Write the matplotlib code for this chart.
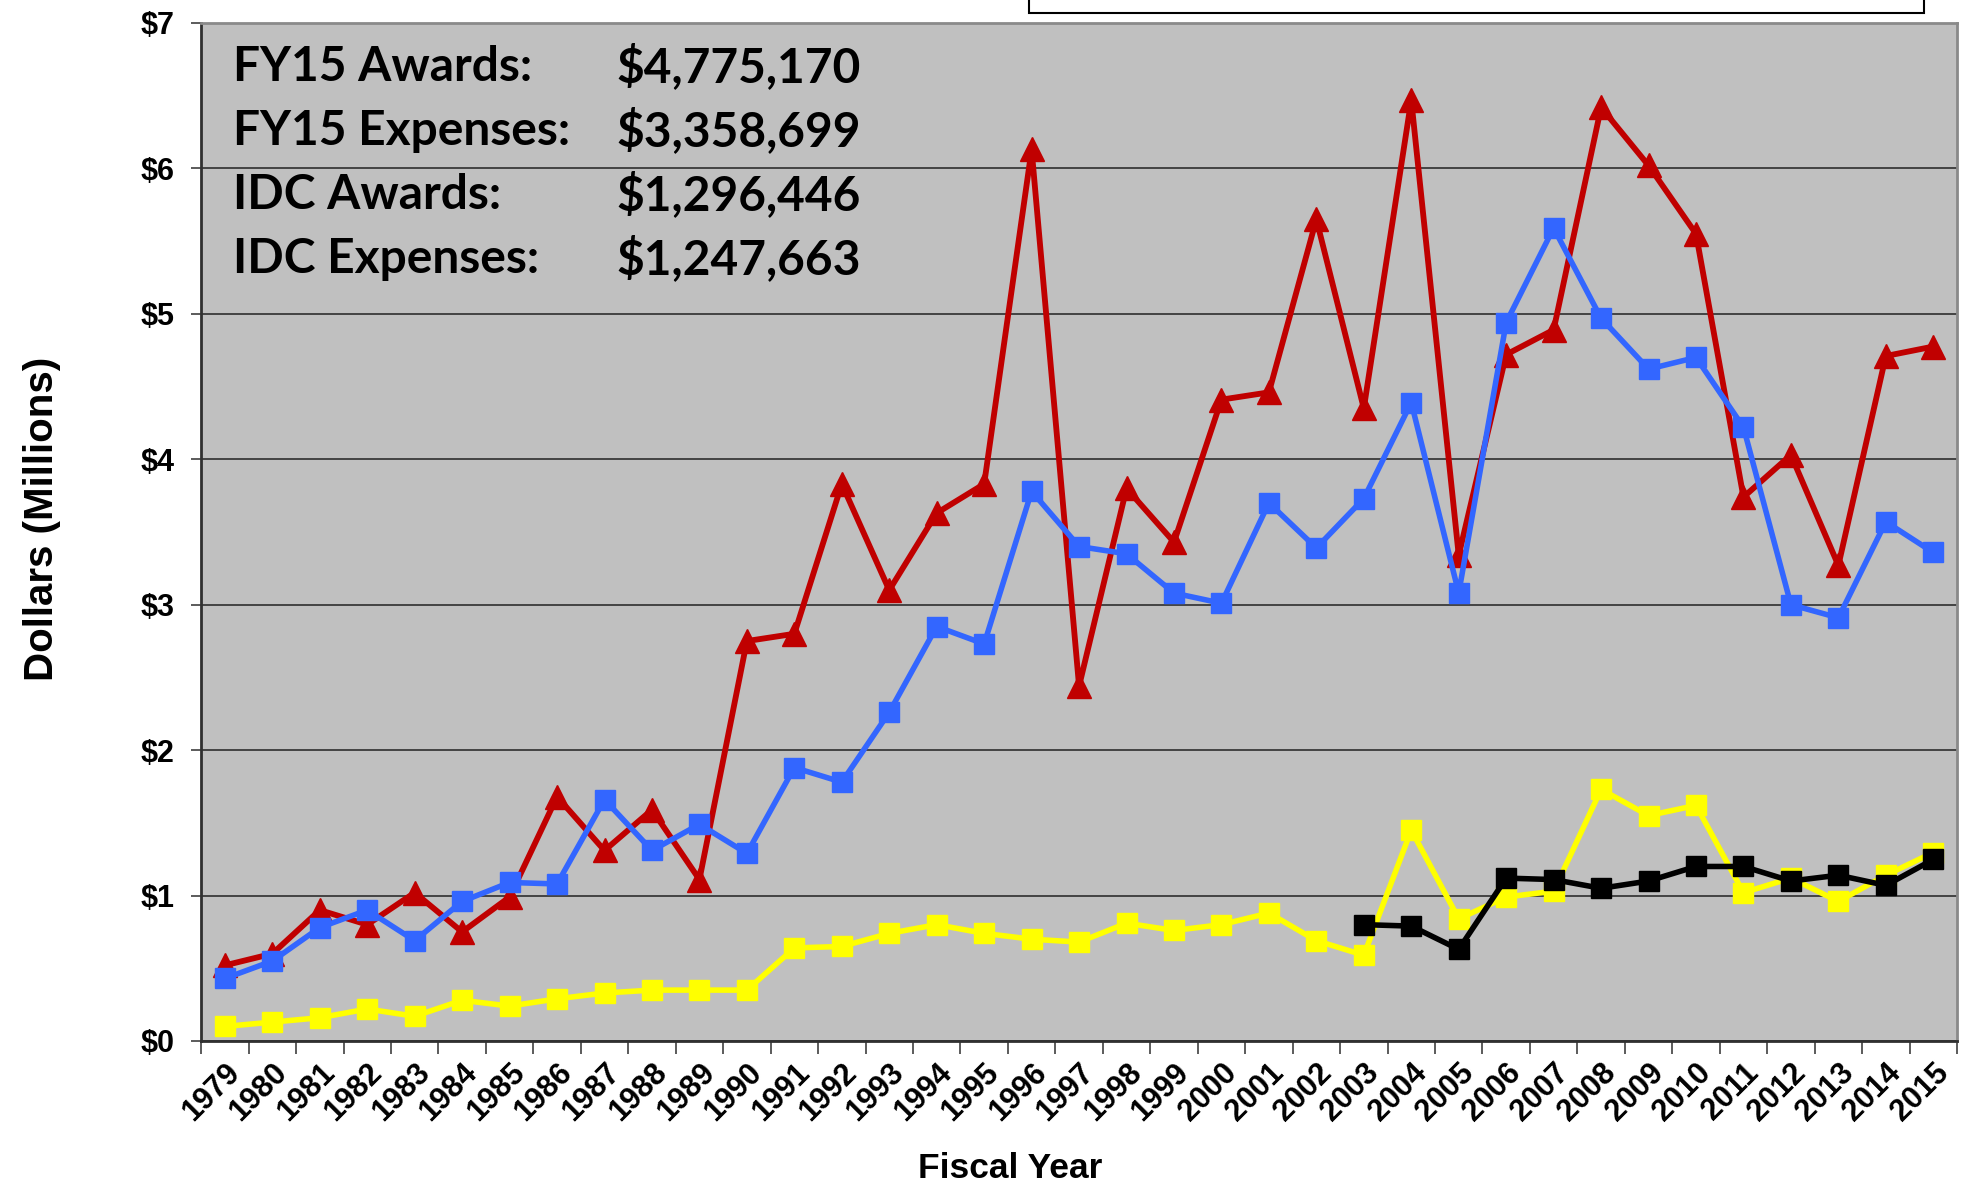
import matplotlib.pyplot as plt
from matplotlib.patches import Rectangle
from matplotlib.transforms import ScaledTranslation

# Fiscal years shown on the x axis
years = [str(y) for y in range(1979, 2016)]

# Awards and expenses, millions of dollars
awards = [0.52, 0.60, 0.90, 0.80, 1.02, 0.75, 0.99, 1.68, 1.31, 1.59,
          1.11, 2.75, 2.80, 3.83, 3.10, 3.63, 3.83, 6.13, 2.44, 3.80,
          3.43, 4.41, 4.46, 5.65, 4.35, 6.47, 3.34, 4.72, 4.89, 6.42,
          6.02, 5.55, 3.74, 4.03, 3.27, 4.71, 4.775]
expenses = [0.43, 0.55, 0.78, 0.90, 0.69, 0.96, 1.09, 1.08, 1.66, 1.31,
            1.49, 1.29, 1.88, 1.78, 2.26, 2.85, 2.73, 3.78, 3.40, 3.35,
            3.08, 3.01, 3.70, 3.39, 3.73, 4.39, 3.08, 4.94, 5.59, 4.97,
            4.62, 4.70, 4.22, 3.00, 2.91, 3.57, 3.359]
idc_awards = [0.10, 0.13, 0.16, 0.22, 0.17, 0.28, 0.24, 0.29, 0.33, 0.35,
              0.35, 0.35, 0.64, 0.65, 0.74, 0.80, 0.74, 0.70, 0.68, 0.81,
              0.76, 0.80, 0.88, 0.69, 0.59, 1.45, 0.84, 0.99, 1.03, 1.73,
              1.55, 1.62, 1.02, 1.12, 0.96, 1.14, 1.296]
# IDC expenses only start in 2003
idc_years = [str(y) for y in range(2003, 2016)]
idc_expenses = [0.80, 0.79, 0.63, 1.12, 1.11, 1.05, 1.10, 1.20, 1.20, 1.10,
                1.14, 1.07, 1.248]

summary_labels = ['FY15 Awards:', 'FY15 Expenses:', 'IDC Awards:', 'IDC Expenses:']
summary_values = ['$4,775,170', '$3,358,699', '$1,296,446', '$1,247,663']

yticks = [0, 1, 2, 3, 4, 5, 6, 7]
ytick_labels = ['$%d' % v for v in yticks]

plt.rcParams['font.family'] = ['Liberation Sans', 'DejaVu Sans']

fig = plt.figure(figsize=(19.72, 11.96), dpi=100)
ax = fig.add_axes([0.102, 0.1296, 0.8904, 0.8512])
ax.set_facecolor('#C0C0C0')

x = list(range(len(years)))
xi = [years.index(y) for y in idc_years]

ax.plot(x, awards, color='#C00000', lw=4.2, marker='^', ms=17, zorder=3)
ax.plot(x, expenses, color='#3366FF', lw=4.0, marker='s', ms=14, zorder=4)
ax.plot(x, idc_awards, color='#FFFF00', lw=4.0, marker='s', ms=14, zorder=5)
ax.plot(xi, idc_expenses, color='#000000', lw=4.0, marker='s', ms=14, zorder=6)

ax.set_xlim(-0.5, len(years) - 0.5)
ax.set_ylim(0, 7)
ax.set_yticks(yticks)
ax.set_yticklabels(ytick_labels, fontsize=22, fontweight='bold')
ax.set_xticks(x)
ax.set_xticklabels(years, fontsize=22, fontweight='bold', rotation=45,
                   ha='right', va='top', rotation_mode='anchor')
shift = ScaledTranslation(0.06, 0, fig.dpi_scale_trans)
for lbl in ax.get_xticklabels():
    lbl.set_transform(lbl.get_transform() + shift)
ax.set_xticks([i - 0.5 for i in range(len(years) + 1)], minor=True)
ax.tick_params(axis='x', which='major', length=0, pad=12)
ax.tick_params(axis='x', which='minor', length=9, width=1.2, color='#404040')
ax.tick_params(axis='y', length=7, width=1.2, color='#404040', pad=12)
ax.grid(axis='y', color='#222222', lw=1.1, zorder=1)
ax.set_axisbelow(True)

for side in ['left', 'bottom']:
    ax.spines[side].set_color('#303030')
    ax.spines[side].set_linewidth(2)
for side in ['top', 'right']:
    ax.spines[side].set_color('#8a8a8a')
    ax.spines[side].set_linewidth(2)

fig.text(1010 / 1972, 1 - 1168 / 1196, 'Fiscal Year', fontsize=25.5,
         fontweight='bold', ha='center', va='center')
fig.text(42 / 1972, 1 - 519 / 1196, 'Dollars (Millions)', fontsize=29,
         fontweight='bold', ha='center', va='center', rotation=90)

# Summary figures in the upper left
for i, (lab, val) in enumerate(zip(summary_labels, summary_values)):
    yy = 1 - (67 + 64 * i) / 1196
    fig.text(0.118, yy, lab, fontsize=34.5, fontweight='bold', family='Lato',
             va='center', ha='left')
    fig.text(0.3125, yy, val, fontsize=34.5, fontweight='bold', family='Lato',
             va='center', ha='left')

# Legend box, cut off at the top of the image
fig.patches.append(Rectangle((1029 / 1972, 1 - 13 / 1196), 895 / 1972, 0.1,
                             transform=fig.transFigure, facecolor='white',
                             edgecolor='black', lw=1.5, zorder=10))

fig.savefig('out.png', dpi=100)
